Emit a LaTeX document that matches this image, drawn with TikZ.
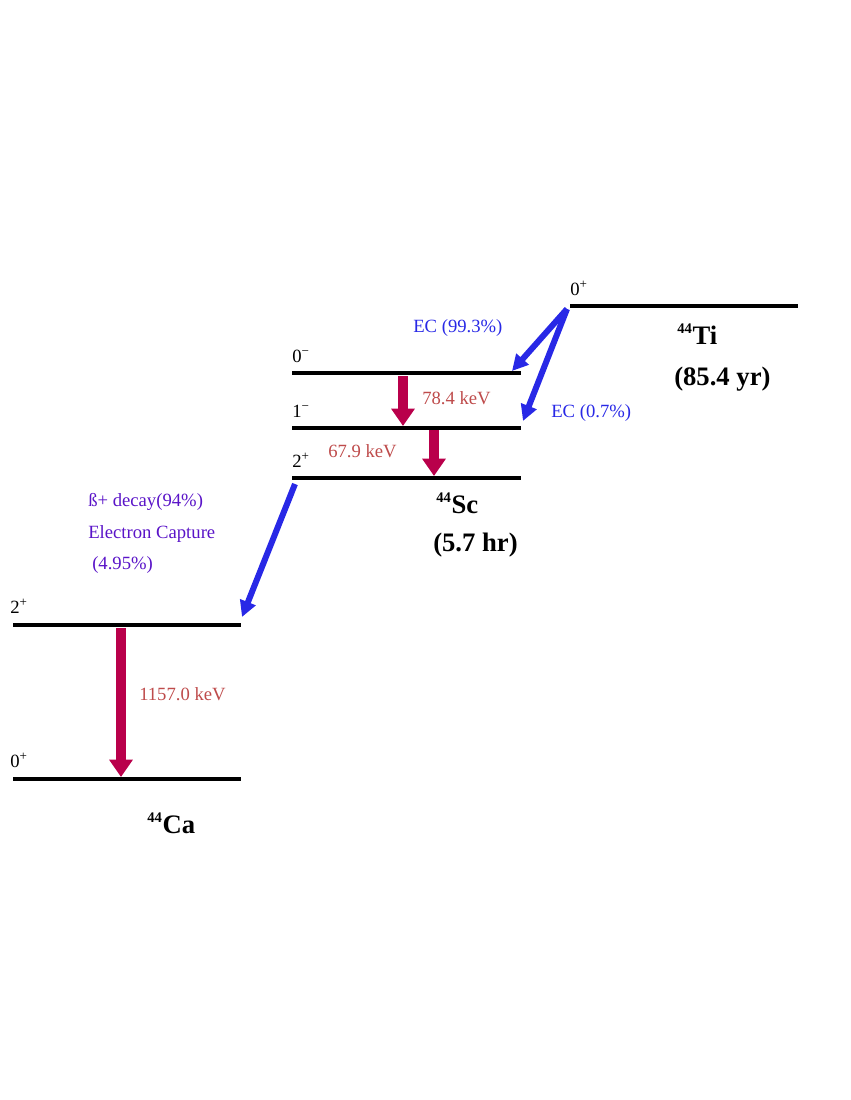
\documentclass[tikz,border=0pt]{standalone}
\usepackage{fontspec}
\setmainfont{Liberation Serif}
\usetikzlibrary{arrows.meta}
\definecolor{gam}{RGB}{185,0,75}
\definecolor{gtxt}{RGB}{190,75,75}
\definecolor{ecb}{RGB}{40,40,230}
\definecolor{bet}{RGB}{90,20,200}
\begin{document}
\begin{tikzpicture}[x=0.75pt,y=-0.75pt,
 lvl/.style={line width=3pt},
 garr/.style={draw=gam,line width=8pt,-{Triangle[length=13pt,width=17pt]}},
 barr/.style={draw=ecb,line width=4.5pt,-{Triangle[length=12pt,width=12pt]}},
 txt/.style={font=\fontsize{14}{16}\selectfont,inner sep=0pt},
 big/.style={font=\fontsize{20}{22}\selectfont\bfseries,inner sep=0pt,align=center}]
\useasboundingbox (0,0) rectangle (850,1100);
% levels
\coordinate (ti1) at (570,306); \coordinate (ti2) at (798,306);
\coordinate (s0a) at (292,373); \coordinate (s0b) at (521,373);
\coordinate (s1a) at (292,428); \coordinate (s1b) at (521,428);
\coordinate (s2a) at (292,478); \coordinate (s2b) at (521,478);
\coordinate (c2a) at (13,625); \coordinate (c2b) at (241,625);
\coordinate (c0a) at (13,779); \coordinate (c0b) at (241,779);
\draw[lvl] (ti1)--(ti2); \draw[lvl] (s0a)--(s0b); \draw[lvl] (s1a)--(s1b);
\draw[lvl] (s2a)--(s2b); \draw[lvl] (c2a)--(c2b); \draw[lvl] (c0a)--(c0b);
% spin labels
\node[txt,anchor=base west] (l1) at (570,295) {0\textsuperscript{+}};
\node[txt,anchor=base west] (l2) at (292,362) {0\textsuperscript{\textminus}};
\node[txt,anchor=base west] (l3) at (292,417) {1\textsuperscript{\textminus}};
\node[txt,anchor=base west] (l4) at (292,467) {2\textsuperscript{+}};
\node[txt,anchor=base west] (l5) at (10,613) {2\textsuperscript{+}};
\node[txt,anchor=base west] (l6) at (10,767) {0\textsuperscript{+}};
% gamma
\coordinate (g1a) at (403,376); \coordinate (g1b) at (403,426);
\coordinate (g2a) at (434,430); \coordinate (g2b) at (434,476);
\coordinate (g3a) at (121,628); \coordinate (g3b) at (121,777);
\draw[garr] (g1a)--(g1b); \draw[garr] (g2a)--(g2b); \draw[garr] (g3a)--(g3b);
\node[txt,text=gtxt,anchor=base west] (e1) at (422,404) {78.4 keV};
\node[txt,text=gtxt,anchor=base west] (e2) at (328,457) {67.9 keV};
\node[txt,text=gtxt,anchor=base west] (e3) at (139,700) {1157.0 keV};
% EC
\coordinate (eo) at (567,309); \coordinate (ea) at (512,371); \coordinate (eb) at (523,421);
\draw[barr] (eo)--(ea); \draw[barr] (eo)--(eb);
\node[txt,text=ecb,anchor=base west] (t1) at (413,332) {EC (99.3\%)};
\node[txt,text=ecb,anchor=base west] (t2) at (551,417) {EC (0.7\%)};
\coordinate (bo) at (295,484); \coordinate (bb) at (242,617);
\draw[barr] (bo)--(bb);
\node[txt,text=bet,anchor=base west,align=left] (t3) at (88,506) {ß+ decay(94\%)};
\node[txt,text=bet,anchor=base west] (t4) at (88,538) {Electron Capture};
\node[txt,text=bet,anchor=base west] (t5) at (92,569) {(4.95\%)};
% nuclide labels
\node[big,anchor=base west] (ti) at (677,344) {\textsuperscript{\fontsize{11}{11}\selectfont 44}Ti};
\node[big,anchor=base west] (tih) at (674,385) {(85.4 yr)};
\node[big,anchor=base west] (sc) at (436,513) {\textsuperscript{\fontsize{11}{11}\selectfont 44}Sc};
\node[big,anchor=base west] (sch) at (433,551) {(5.7 hr)};
\node[big,anchor=base west] (ca) at (147,833) {\textsuperscript{\fontsize{11}{11}\selectfont 44}Ca};
\end{tikzpicture}
\end{document}
